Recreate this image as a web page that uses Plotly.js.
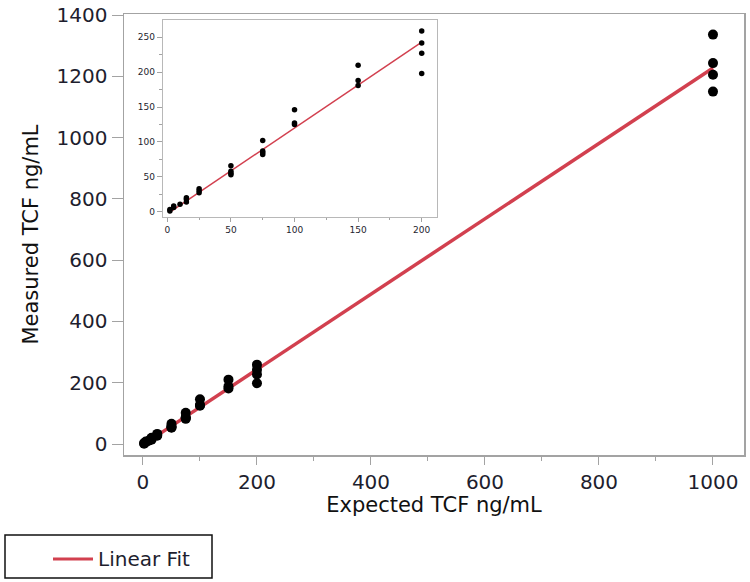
<!DOCTYPE html>
<html>
<head>
<meta charset="utf-8">
<script src="https://cdn.plot.ly/plotly-3.0.1.min.js"></script>
<style>html,body{margin:0;padding:0;background:#fff;}#chart{width:750px;height:582px;}</style>
</head>
<body>
<div id="chart"></div>
<script>
// Expected vs measured TCF (ng/mL)
const expected = [2, 2, 5, 5, 10, 15, 15, 15, 25, 25, 25, 50, 50, 50, 50, 75, 75, 75, 75, 100, 100, 100, 150, 150, 150, 200, 200, 200, 200, 1000, 1000, 1000, 1000];
const measured = [1, 3, 6, 8, 10.5, 14, 18, 20, 27, 30, 33, 53, 55, 58, 66, 82, 85, 87, 102, 125, 127, 146, 181, 188, 210, 198, 227, 242, 259, 1150, 1205, 1243, 1336];
// Linear fit endpoints
const fitX = [2, 1000];
const fitY = [-0.5, 1227];
const insetFitX = [2, 200];
const insetFitY = [-0.5, 243];
// Inset shows points up to 200
const insetX = expected.filter(v => v <= 200);
const insetY = measured.filter((v, i) => expected[i] <= 200);

const fitColor = '#d2404f';
const txt = '#1e1e2e';
const frame = '#a3a3a3';
const fam = 'DejaVu Sans, Liberation Sans, sans-serif';

const traces = [
  {x: fitX, y: fitY, mode: 'lines', line: {color: fitColor, width: 3.5}, xaxis: 'x', yaxis: 'y', showlegend: false, hoverinfo: 'skip'},
  {x: expected, y: measured, mode: 'markers', marker: {color: '#000', size: 10}, xaxis: 'x', yaxis: 'y', showlegend: false},
  {x: insetFitX, y: insetFitY, mode: 'lines', line: {color: fitColor, width: 1.5}, xaxis: 'x2', yaxis: 'y2', showlegend: false, hoverinfo: 'skip'},
  {x: insetX, y: insetY, mode: 'markers', marker: {color: '#000', size: 5.5}, xaxis: 'x2', yaxis: 'y2', showlegend: false}
];

const layout = {
  width: 750, height: 582,
  margin: {l: 124, r: 6, t: 14, b: 127},
  paper_bgcolor: '#fff', plot_bgcolor: '#fff',
  font: {family: fam, color: txt},
  showlegend: false,
  xaxis: {
    domain: [0, 1], range: [-33.3, 1054.4],
    tickvals: [0, 200, 400, 600, 800, 1000],
    ticks: 'outside', ticklen: 8, tickcolor: frame, tickwidth: 1,
    minor: {tickvals: [100, 300, 500, 700, 900], ticks: 'outside', ticklen: 4, tickcolor: frame},
    showgrid: false, zeroline: false,
    showline: true, linecolor: frame, linewidth: 1.5, mirror: true,
    tickfont: {family: fam, size: 20, color: txt},
    title: {text: 'Expected TCF ng/mL', font: {family: fam, size: 21, color: '#111'}, standoff: 3}
  },
  yaxis: {
    domain: [0, 1], range: [-35.9, 1403.3],
    tickvals: [0, 200, 400, 600, 800, 1000, 1200, 1400],
    ticks: 'outside', ticklen: 11, tickcolor: frame, tickwidth: 1,
    showgrid: false, zeroline: false,
    showline: true, linecolor: frame, linewidth: 1.5, mirror: true,
    tickfont: {family: fam, size: 20, color: txt},
    title: {text: 'Measured TCF ng/mL', font: {family: fam, size: 21, color: '#111'}, standoff: 12}
  },
  xaxis2: {
    domain: [0.0629, 0.5048], anchor: 'y2', range: [-3.4, 212.0],
    tickvals: [0, 50, 100, 150, 200],
    ticks: 'outside', ticklen: 4, tickcolor: frame, tickwidth: 1,
    minor: {tickvals: [25, 75, 125, 175], ticks: 'outside', ticklen: 2, tickcolor: frame},
    showgrid: false, zeroline: false,
    showline: true, linecolor: '#b8b8b8', linewidth: 1.2, mirror: true,
    tickfont: {family: fam, size: 9, color: txt}
  },
  yaxis2: {
    domain: [0.5397, 0.9864], anchor: 'x2', range: [-7.6, 274.8],
    tickvals: [0, 50, 100, 150, 200, 250],
    ticks: 'outside', ticklen: 5, tickcolor: frame, tickwidth: 1,
    minor: {tickvals: [25, 75, 125, 175, 225], ticks: 'outside', ticklen: 2.5, tickcolor: frame},
    showgrid: false, zeroline: false,
    showline: true, linecolor: '#b8b8b8', linewidth: 1.2, mirror: true,
    tickfont: {family: fam, size: 9, color: txt}
  },
  shapes: [
    {type: 'rect', xref: 'paper', yref: 'paper',
     x0: (5 - 124) / 620, x1: (212 - 124) / 620,
     y0: (455 - 578) / 441, y1: (455 - 535) / 441,
     line: {color: '#111', width: 1.5}, fillcolor: 'rgba(0,0,0,0)'},
    {type: 'line', xref: 'paper', yref: 'paper',
     x0: (53 - 124) / 620, x1: (93 - 124) / 620,
     y0: (455 - 559) / 441, y1: (455 - 559) / 441,
     line: {color: fitColor, width: 3}}
  ],
  annotations: [
    {text: 'Linear Fit', xref: 'paper', yref: 'paper',
     x: (96 - 124) / 620, y: (455 - 559) / 441, xanchor: 'left', yanchor: 'middle',
     showarrow: false, font: {family: fam, size: 20, color: txt}}
  ]
};

Plotly.newPlot('chart', traces, layout, {displayModeBar: false, staticPlot: true});
</script>
</body>
</html>
